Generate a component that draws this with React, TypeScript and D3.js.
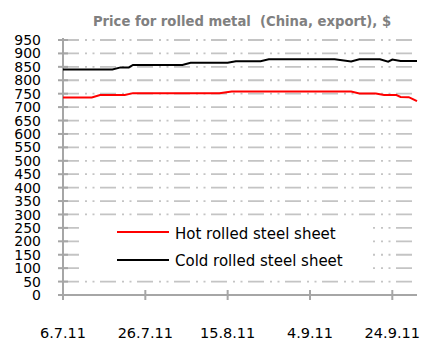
import React from 'react';
import * as d3 from 'd3';

// Cold rolled steel sheet, export price, $
const coldDates = [
  '2011-07-06', '2011-07-18', '2011-07-20', '2011-07-22', '2011-07-23', '2011-08-04',
  '2011-08-06', '2011-08-15', '2011-08-17', '2011-08-23', '2011-08-25', '2011-09-10',
  '2011-09-14', '2011-09-16', '2011-09-21', '2011-09-23', '2011-09-24', '2011-09-26',
  '2011-09-30',
];
const coldValues = [
  840, 840, 848, 848, 857, 857,
  865, 865, 871, 871, 878, 878,
  870, 878, 878, 869, 877, 872,
  872,
];

// Hot rolled steel sheet, export price, $
const hotDates = [
  '2011-07-06', '2011-07-13', '2011-07-15', '2011-07-21', '2011-07-23', '2011-08-13',
  '2011-08-16', '2011-09-14', '2011-09-16', '2011-09-20', '2011-09-22', '2011-09-25',
  '2011-09-26', '2011-09-28', '2011-09-29', '2011-09-30',
];
const hotValues = [
  736, 736, 745, 745, 752, 752,
  758, 758, 751, 751, 745, 745,
  738, 737, 730, 722,
];

const xTickDates = ['2011-07-06', '2011-07-26', '2011-08-15', '2011-09-04', '2011-09-24'];
const yTicks = d3.range(0, 951, 50);

const title = 'Price for rolled metal  (China, export), $';
const seriesNames = ['Hot rolled steel sheet', 'Cold rolled steel sheet'];

const parse = d3.timeParse('%Y-%m-%d');
const fmt = d3.timeFormat('%-d.%-m.%y');
const FONT = '"DejaVu Sans", sans-serif';

export default function App() {
  const W = 423;
  const H = 341;
  const left = 63;
  const right = 417;
  const top = 40;
  const bottom = 295;

  const x = d3
    .scaleTime()
    .domain([parse('2011-07-06')!, parse('2011-09-30')!])
    .range([left, right]);
  const y = d3.scaleLinear().domain([0, 950]).range([bottom, top]);

  const line = d3
    .line<[Date, number]>()
    .x((d) => x(d[0]))
    .y((d) => y(d[1]));

  const hot = hotDates.map((d, i) => [parse(d)!, hotValues[i]] as [Date, number]);
  const cold = coldDates.map((d, i) => [parse(d)!, coldValues[i]] as [Date, number]);

  const axisColor = '#a6a6a6';
  const gridColor = '#c4c4c4';

  return (
    <svg
      width={W}
      height={H}
      style={{ position: 'absolute', left: 0, top: 0, background: '#fff' }}
    >
      <text
        x={242}
        y={26}
        textAnchor="middle"
        fontFamily={FONT}
        fontWeight="bold"
        fontSize={13.2}
        fill="#808080"
        style={{ whiteSpace: 'pre' }}
      >
        {title}
      </text>

      {/* grid */}
      {yTicks
        .filter((t) => t > 0)
        .map((t) => (
          <line
            key={'g' + t}
            x1={left}
            x2={right}
            y1={y(t)}
            y2={y(t)}
            stroke={gridColor}
            strokeWidth={1.8}
            strokeDasharray="16,6,2,5.5,2,5.5"
          />
        ))}

      {/* axes */}
      <line x1={left} x2={left} y1={top - 2} y2={bottom + 5} stroke={axisColor} strokeWidth={2} />
      <line x1={left - 4} x2={right} y1={bottom} y2={bottom} stroke={axisColor} strokeWidth={2} />
      {yTicks.map((t) => (
        <line
          key={'yt' + t}
          x1={left - 5}
          x2={left + 5}
          y1={y(t)}
          y2={y(t)}
          stroke={axisColor}
          strokeWidth={2}
        />
      ))}
      {xTickDates.map((d) => (
        <line
          key={'xt' + d}
          x1={x(parse(d)!)}
          x2={x(parse(d)!)}
          y1={bottom - 5}
          y2={bottom + 5}
          stroke={axisColor}
          strokeWidth={2}
        />
      ))}

      {yTicks.map((t) => (
        <text
          key={'yl' + t}
          x={41}
          y={y(t)}
          dy="0.36em"
          textAnchor="end"
          fontFamily={FONT}
          fontSize={14}
          fill="#000"
        >
          {t}
        </text>
      ))}
      {xTickDates.map((d) => (
        <text
          key={'xl' + d}
          x={x(parse(d)!)}
          y={338}
          textAnchor="middle"
          fontFamily={FONT}
          fontSize={14.5}
          fill="#000"
        >
          {fmt(parse(d)!)}
        </text>
      ))}

      {/* series */}
      <path d={line(cold)!} fill="none" stroke="#000" strokeWidth={2} />
      <path d={line(hot)!} fill="none" stroke="#ff0000" strokeWidth={2} />

      {/* legend */}
      <rect x={80} y={217} width={293} height={61} fill="#fff" />
      <line x1={117} x2={169} y1={232} y2={232} stroke="#ff0000" strokeWidth={2} />
      <text x={175} y={239} fontFamily={FONT} fontSize={15} fill="#000">
        {seriesNames[0]}
      </text>
      <line x1={117} x2={169} y1={260} y2={260} stroke="#000" strokeWidth={2} />
      <text x={175} y={266} fontFamily={FONT} fontSize={15} fill="#000">
        {seriesNames[1]}
      </text>
    </svg>
  );
}
